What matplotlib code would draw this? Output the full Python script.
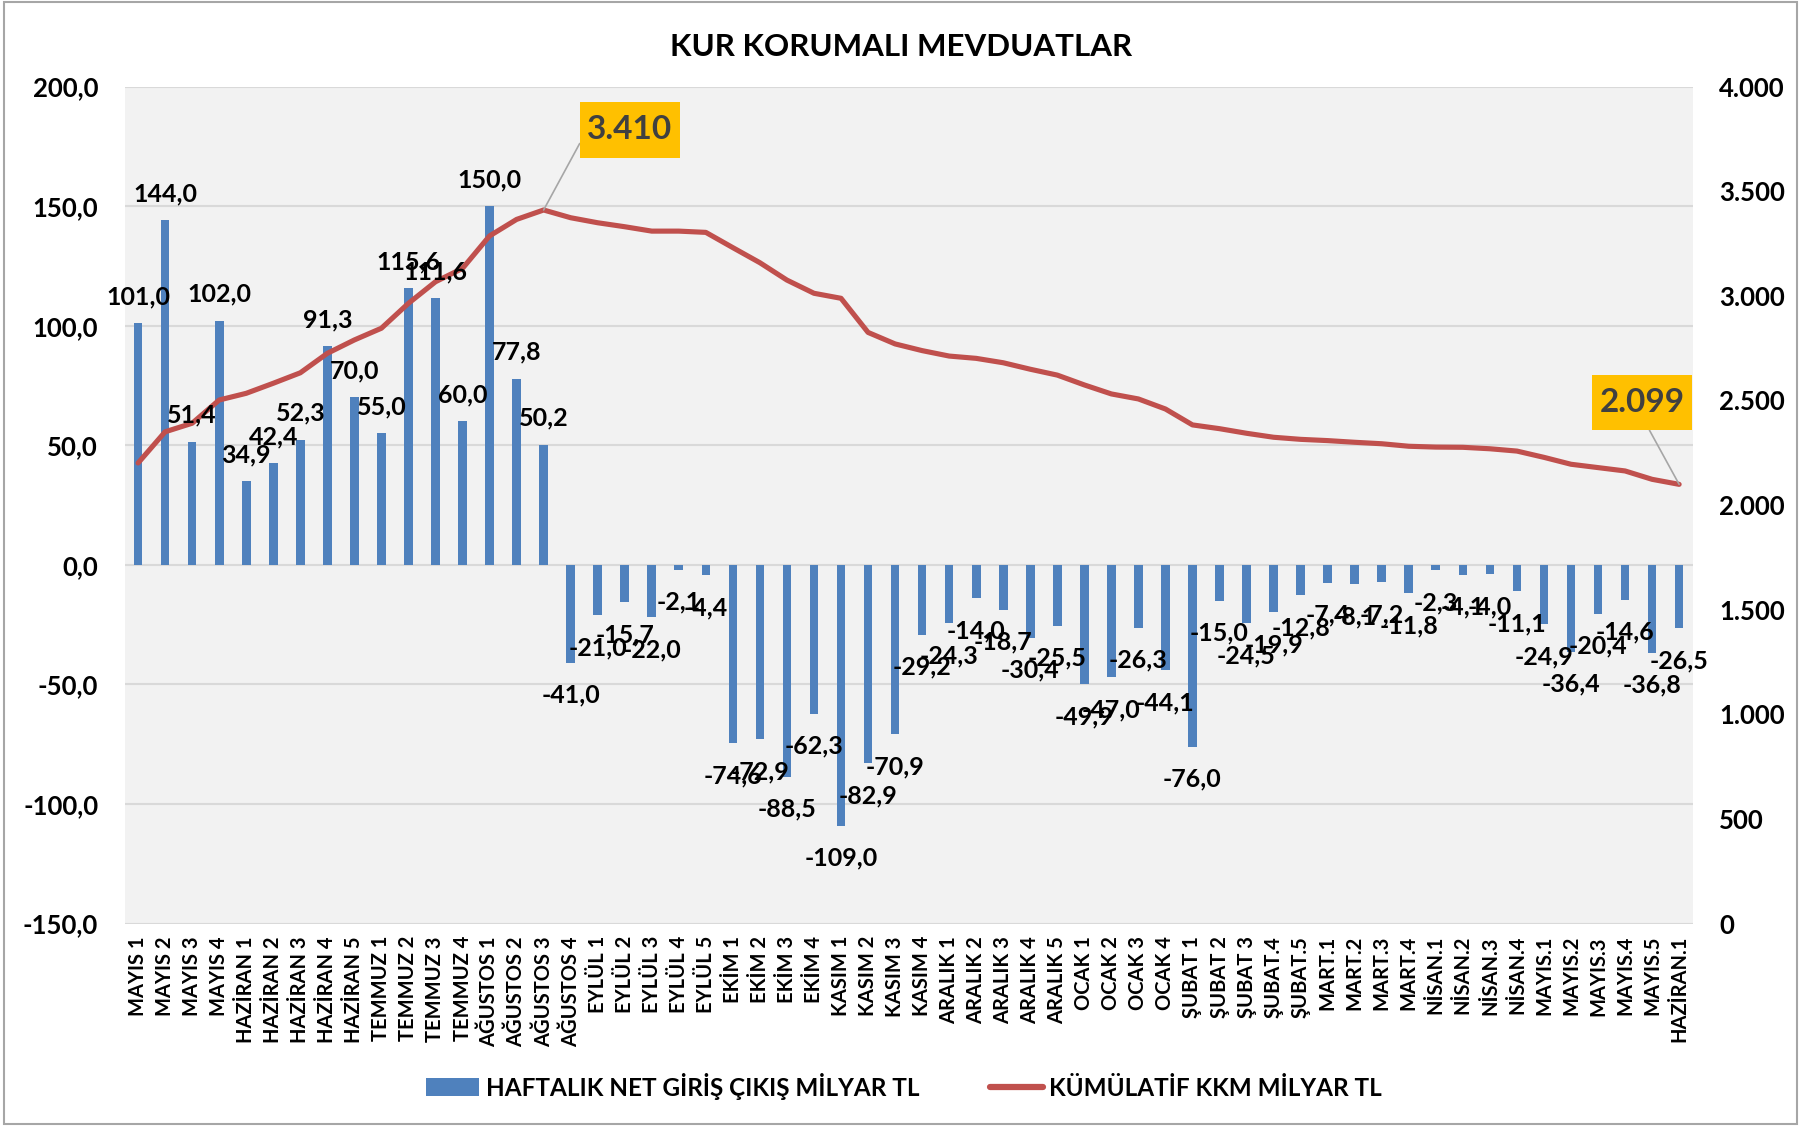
import matplotlib.pyplot as plt
from matplotlib.lines import Line2D
from matplotlib.patches import Patch, Rectangle
from matplotlib.path import Path

plt.rcParams["font.family"] = ["Lato", "DejaVu Sans"]
plt.rcParams["font.weight"] = "bold"

weeks = [
    "MAYIS 1", "MAYIS 2", "MAYIS 3", "MAYIS 4",
    "HAZİRAN 1", "HAZİRAN 2", "HAZİRAN 3", "HAZİRAN 4", "HAZİRAN 5",
    "TEMMUZ 1", "TEMMUZ 2", "TEMMUZ 3", "TEMMUZ 4",
    "AĞUSTOS 1", "AĞUSTOS 2", "AĞUSTOS 3", "AĞUSTOS 4",
    "EYLÜL 1", "EYLÜL 2", "EYLÜL 3", "EYLÜL 4", "EYLÜL 5",
    "EKİM 1", "EKİM 2", "EKİM 3", "EKİM 4",
    "KASIM 1", "KASIM 2", "KASIM 3", "KASIM 4",
    "ARALIK 1", "ARALIK 2", "ARALIK 3", "ARALIK 4", "ARALIK 5",
    "OCAK 1", "OCAK 2", "OCAK 3", "OCAK 4",
    "ŞUBAT 1", "ŞUBAT 2", "ŞUBAT 3", "ŞUBAT.4", "ŞUBAT.5",
    "MART.1", "MART.2", "MART.3", "MART.4",
    "NİSAN.1", "NİSAN.2", "NİSAN.3", "NİSAN.4",
    "MAYIS.1", "MAYIS.2", "MAYIS.3", "MAYIS.4", "MAYIS.5",
    "HAZİRAN.1",
]

# weekly net flow, billion TL
weekly_flow = [
    101.0, 144.0, 51.4, 102.0,
    34.9, 42.4, 52.3, 91.3, 70.0,
    55.0, 115.6, 111.6, 60.0,
    150.0, 77.8, 50.2, -41.0,
    -21.0, -15.7, -22.0, -2.1, -4.4,
    -74.6, -72.9, -88.5, -62.3,
    -109.0, -82.9, -70.9, -29.2,
    -24.3, -14.0, -18.7, -30.4, -25.5,
    -49.9, -47.0, -26.3, -44.1,
    -76.0, -15.0, -24.5, -19.9, -12.8,
    -7.4, -8.1, -7.2, -11.8,
    -2.3, -4.1, -4.0, -11.1,
    -24.9, -36.4, -20.4, -14.6, -36.8,
    -26.5,
]

# cumulative KKM stock, billion TL
cumulative = [
    2201, 2350, 2391, 2502, 2534, 2582, 2632, 2725, 2789, 2845, 2964, 3067,
    3131, 3286, 3365, 3410, 3373, 3349, 3330, 3309, 3309, 3303, 3230, 3158,
    3075, 3012, 2988, 2825, 2770, 2738, 2712, 2701, 2680, 2649, 2621, 2574,
    2531, 2507, 2459, 2383, 2365, 2343, 2324, 2314, 2308, 2300, 2293, 2281,
    2277, 2276, 2269, 2258, 2228, 2195, 2179, 2163, 2123, 2099,
]

left_ticks = [-150, -100, -50, 0, 50, 100, 150, 200]
right_ticks = [0, 500, 1000, 1500, 2000, 2500, 3000, 3500, 4000]

BAR_COLOR = "#4F81BD"
LINE_COLOR = "#C0504D"
GRID_COLOR = "#D9D9D9"
BOX_COLOR = "#FFC000"


def tr_decimal(v):
    return f"{v:.1f}".replace(".", ",")


def tr_thousands(v):
    return f"{v:,.0f}".replace(",", ".")


def callout_box(x0, y0, width, height, mutation_size):
    # square box, taller padding than wide (like the Excel callouts)
    padx = 0.22 * mutation_size
    pady = 0.40 * mutation_size
    x0, y0 = x0 - padx, y0 - pady
    x1, y1 = x0 + width + 2 * padx, y0 + height + 2 * pady
    return Path([(x0, y0), (x1, y0), (x1, y1), (x0, y1), (x0, y0)], closed=True)


fig = plt.figure(figsize=(18.08, 11.28), dpi=100)
ax = fig.add_axes([0.0689, 0.1812, 0.8673, 0.7421])
ax2 = ax.twinx()

x = list(range(len(weeks)))

ax.set_facecolor("#F2F2F2")
ax.bar(x, weekly_flow, width=0.32, color=BAR_COLOR, zorder=2)
ax.set_ylim(-150, 200)
ax.set_yticks(left_ticks)
ax.set_yticklabels([tr_decimal(v) for v in left_ticks], fontsize=18.5, fontweight="bold")
ax.set_xlim(-0.5, len(weeks) - 0.5)
ax.set_xticks(x)
ax.set_xticklabels(weeks, rotation=90, fontsize=14.5, fontweight="bold")
ax.tick_params(axis="y", length=0, pad=19)
ax.tick_params(axis="x", length=0, pad=9)
ax.grid(axis="y", color=GRID_COLOR, linewidth=1.5, zorder=0)
ax.set_axisbelow(True)
for sp in ax.spines.values():
    sp.set_visible(False)

ax2.plot(x, cumulative, color=LINE_COLOR, linewidth=3.7, solid_capstyle="round",
         solid_joinstyle="round", zorder=3)
ax2.set_ylim(0, 4000)
ax2.set_yticks(right_ticks)
ax2.set_yticklabels([tr_thousands(v) for v in right_ticks], fontsize=18.5, fontweight="bold")
ax2.tick_params(axis="y", length=0, pad=19)
for sp in ax2.spines.values():
    sp.set_visible(False)

# bar value labels, drawn on top of the line
for xi, v in zip(x, weekly_flow):
    dy = 19 if v >= 0 else -40
    ax2.annotate(tr_decimal(v), xy=(xi, v), xycoords=ax.transData,
                 xytext=(0, dy), textcoords="offset pixels",
                 ha="center", va="baseline", fontsize=18, fontweight="bold",
                 color="black", zorder=5, annotation_clip=False)

# highlighted peak and latest values of the cumulative line
peak = cumulative.index(max(cumulative))
last = len(cumulative) - 1
callouts = [
    (peak, (86, 80), (0.0, 0.5)),
    (last, (-37, 82), (0.5, 0.0)),
]
for idx, offset, relpos in callouts:
    ax2.annotate(tr_thousands(cumulative[idx]), xy=(idx, cumulative[idx]),
                 xytext=offset, textcoords="offset pixels",
                 ha="center", va="center", fontsize=24, fontweight="bold",
                 color="#404040", zorder=6, annotation_clip=False,
                 bbox=dict(boxstyle=callout_box, fc=BOX_COLOR, ec="none"),
                 arrowprops=dict(arrowstyle="-", color="#A6A6A6", lw=1.2,
                                 relpos=relpos, shrinkA=0, shrinkB=0))

fig.text(0.4985, 0.958, "KUR KORUMALI MEVDUATLAR", ha="center", va="center",
         fontsize=22.5, fontweight="bold")

handles = [
    Patch(facecolor=BAR_COLOR, edgecolor="none"),
    Line2D([0], [0], color=LINE_COLOR, linewidth=4.5, solid_capstyle="round"),
]
fig.legend(handles, ["HAFTALIK NET GİRİŞ ÇIKIŞ MİLYAR TL", "KÜMÜLATİF KKM MİLYAR TL"],
           loc="center", bbox_to_anchor=(0.5, 0.0372), ncol=2, frameon=False,
           prop={"size": 17.5, "weight": "bold"}, handlelength=2.2,
           handleheight=0.72, handletextpad=0.26, columnspacing=2.9)

fig.patches.append(Rectangle((0.0022, 0.0035), 0.9917, 0.9945, transform=fig.transFigure,
                             fill=False, edgecolor="#A6A6A6", linewidth=1.5))

fig.savefig("out.png", dpi=100)
